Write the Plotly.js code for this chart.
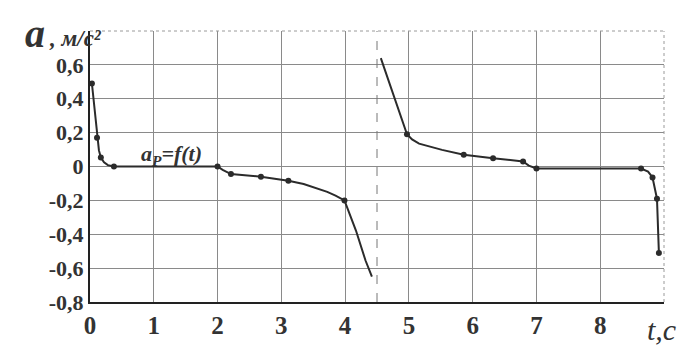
<!DOCTYPE html>
<html><head><meta charset="utf-8">
<script src="https://cdn.plot.ly/plotly-3.0.1.min.js"></script>
<style>
html,body{margin:0;padding:0;background:#fff}
#chart{width:696px;height:357px}
#note{position:absolute;left:0;top:600px;font-family:'Liberation Serif';font-size:12px;color:#fff}
</style>
</head><body><div id="chart"></div><div id="note">Ускорение a_P = f(t)</div>
<script>
// Branch 1 (t < 4.5): line path and marked points
const line1T = [0.03, 0.07, 0.11, 0.14, 0.17, 0.22, 0.28, 0.375, 1.0, 2.0, 2.08, 2.21, 2.68, 3.11, 3.35, 3.54, 3.72, 3.85, 3.99, 4.17, 4.32, 4.42];
const line1A = [0.49, 0.33, 0.17, 0.095, 0.053, 0.025, 0.008, 0.0, 0.0, 0.0, -0.02, -0.045, -0.06, -0.084, -0.103, -0.127, -0.15, -0.172, -0.2, -0.378, -0.555, -0.65];
const pts1T = [0.03, 0.11, 0.17, 0.375, 2.0, 2.21, 2.68, 3.11, 3.99];
const pts1A = [0.49, 0.17, 0.053, 0.0, 0.0, -0.045, -0.06, -0.084, -0.2];
// Branch 2 (t > 4.5)
const line2T = [4.56, 4.78, 4.97, 5.05, 5.16, 5.52, 5.86, 6.32, 6.79, 6.88, 7.0, 8.0, 8.64, 8.75, 8.82, 8.89, 8.92];
const line2A = [0.64, 0.40, 0.19, 0.16, 0.135, 0.098, 0.069, 0.049, 0.03, 0.005, -0.012, -0.012, -0.012, -0.03, -0.065, -0.19, -0.51];
const pts2T = [4.97, 5.86, 6.32, 6.79, 7.0, 8.64, 8.82, 8.89, 8.92];
const pts2A = [0.19, 0.069, 0.049, 0.03, -0.012, -0.012, -0.065, -0.19, -0.51];
// Asymptote
const asymT = [4.5];
// Ticks
const xTickVals = [0, 1, 2, 3, 4, 5, 6, 7, 8, 9];
const xTickText = ['0', '1', '2', '3', '4', '5', '6', '7', '8', ''];
const yTickVals = [0.8, 0.6, 0.4, 0.2, 0, -0.2, -0.4, -0.6, -0.8];
const yTickText = ['', '0,6', '0,4', '0,2', '0', '-0,2', '-0,4', '-0,6', '-0,8'];

const ink = '#2b2b2b';
const serifFam = 'Liberation Serif';
const lineStyle = {color: ink, width: 2};
const markStyle = {color: ink, size: 6};

const traces = [
  {x: line1T, y: line1A, mode: 'lines', line: lineStyle, hoverinfo: 'skip'},
  {x: pts1T, y: pts1A, mode: 'markers', marker: markStyle},
  {x: line2T, y: line2A, mode: 'lines', line: lineStyle, hoverinfo: 'skip'},
  {x: pts2T, y: pts2A, mode: 'markers', marker: markStyle}
];

const layout = {
  width: 696, height: 357,
  margin: {l: 90, r: 32, t: 31, b: 55},
  paper_bgcolor: '#ffffff', plot_bgcolor: '#ffffff',
  showlegend: false,
  font: {family: serifFam, color: '#333'},
  xaxis: {
    range: [0, 9], tickvals: xTickVals, ticktext: xTickText,
    showgrid: true, gridcolor: '#8a8a8a', gridwidth: 1,
    zeroline: false, showline: true, linecolor: '#222', linewidth: 2,
    ticks: '',
    tickfont: {family: serifFam, size: 25, color: '#333', weight: 'bold'}
  },
  yaxis: {
    range: [-0.8, 0.8], tickvals: yTickVals, ticktext: yTickText,
    showgrid: true, gridcolor: '#8a8a8a', gridwidth: 1,
    zeroline: false, showline: true, linecolor: '#222', linewidth: 2,
    ticks: '',
    tickfont: {family: serifFam, size: 22, color: '#333', weight: 'bold'}
  },
  shapes: [
    {type: 'line', xref: 'x', yref: 'paper', x0: asymT[0], x1: asymT[0], y0: 0, y1: 1,
     line: {color: '#777', width: 1, dash: 'dash'}},
    {type: 'line', xref: 'paper', yref: 'paper', x0: 0, x1: 1, y0: 1, y1: 1,
     line: {color: '#9a9a9a', width: 1, dash: 'dot'}},
    {type: 'line', xref: 'paper', yref: 'paper', x0: 1, x1: 1, y0: 0, y1: 1,
     line: {color: '#9a9a9a', width: 1, dash: 'dot'}}
  ],
  annotations: [
    {xref: 'paper', yref: 'paper', x: -0.075, y: 1.0, xanchor: 'right', yanchor: 'middle',
     showarrow: false, yshift: -2,
     text: '<i><b>a</b></i>',
     font: {family: serifFam, size: 40, color: '#333'}},
    {xref: 'paper', yref: 'paper', x: -0.075, y: 1.0, xanchor: 'left', yanchor: 'middle',
     showarrow: false, yshift: -7,
     text: '<i><b>, м/с²</b></i>',
     font: {family: serifFam, size: 23, color: '#333'}},
    {xref: 'paper', yref: 'paper', x: 0.967, y: 0, xanchor: 'left', yanchor: 'middle',
     showarrow: false, yshift: -27,
     text: '<i>t,c</i>',
     font: {family: serifFam, size: 30, color: '#333'}},
    {xref: 'x', yref: 'y', x: 1.28, y: 0.065, xanchor: 'center', yanchor: 'middle',
     showarrow: false,
     text: '<i><b>a<sub>P</sub>=f(t)</b></i>',
     font: {family: serifFam, size: 22, color: '#333'}}
  ]
};

Plotly.newPlot('chart', traces, layout, {displayModeBar: false, staticPlot: true});
</script></body></html>
